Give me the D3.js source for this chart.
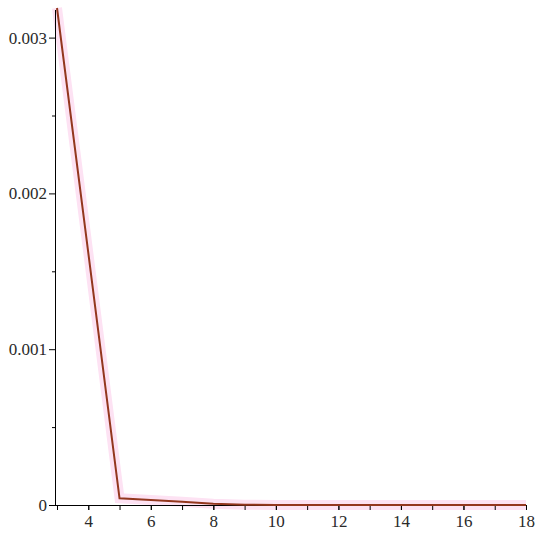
<!DOCTYPE html>
<html>
<head>
<meta charset="utf-8">
<script src="https://cdn.jsdelivr.net/npm/d3@7"></script>
<style>
  body { margin: 0; background: #fff; }
  .tick text { font-family: "Liberation Serif", "DejaVu Serif", serif; font-size: 17px; fill: #2a2a2a; }
</style>
</head>
<body>
<div id="chart"></div>
<script>
// data
var xs = [3, 4, 5, 6, 7, 8, 9, 10, 11, 12, 13, 14, 15, 16, 17, 18];
var ys = [0.00319, 0.00162, 0.000043, 0.000032, 0.000021, 0.000008, 0.000002, 0.0000005,
          0.0000002, 0.0000001, 0, 0, 0, 0, 0, 0];
var xTicks = [4, 6, 8, 10, 12, 14, 16, 18];
var yTicks = [0, 0.001, 0.002, 0.003];

var width = 550, height = 544;
var margin = { top: 8, right: 24, bottom: 39, left: 57 };

var x = d3.scaleLinear().domain([3, 18]).range([margin.left, width - margin.right]);
var y = d3.scaleLinear().domain([0, 0.00319]).range([height - margin.bottom, margin.top]);

var svg = d3.select("#chart").append("svg")
    .attr("width", width)
    .attr("height", height);

var data = xs.map(function(d, i) { return { x: d, y: ys[i] }; });

var line = d3.line()
    .x(function(d) { return x(d.x); })
    .y(function(d) { return y(d.y); });

// faint pink halo around the curve
svg.append("path")
    .attr("d", line(data))
    .attr("fill", "none")
    .attr("stroke", "#fde2f3")
    .attr("stroke-width", 10);

// minor ticks
var minorX = d3.range(3, 19, 1);
svg.append("g")
    .attr("transform", "translate(0," + y(0) + ")")
    .call(d3.axisBottom(x).tickValues(minorX).tickSize(5).tickFormat(""))
    .call(function(g) { g.select(".domain").remove(); });

svg.append("g")
    .attr("transform", "translate(" + (x(3) - 2) + ",0)")
    .call(d3.axisLeft(y).tickValues([0.0005, 0.0015, 0.0025]).tickSize(3).tickFormat(""))
    .call(function(g) { g.select(".domain").remove(); });

// X axis
svg.append("g")
    .attr("class", "xaxis")
    .attr("transform", "translate(0," + y(0) + ")")
    .call(d3.axisBottom(x).tickValues(xTicks).tickSize(5).tickPadding(5).tickSizeOuter(0)
        .tickFormat(d3.format("d")))
    .call(function(g) {
        g.select(".domain").attr("d", "M" + (x(3) - 2) + ",0.5H" + x(18));
    });

// Y axis
svg.append("g")
    .attr("class", "yaxis")
    .attr("transform", "translate(" + (x(3) - 2) + ",0)")
    .call(d3.axisLeft(y).tickValues(yTicks).tickSize(6).tickPadding(2).tickSizeOuter(0)
        .tickFormat(function(d) { return d === 0 ? "0" : d3.format(".3f")(d); }))
    .call(function(g) {
        g.select(".domain").attr("d", "M0.5," + y(0) + "V" + (margin.top + 2));
    });

// curve
svg.append("path")
    .attr("class", "line")
    .attr("d", line(data))
    .attr("fill", "none")
    .attr("stroke", "#93371e")
    .attr("stroke-width", 2);
</script>
</body>
</html>
